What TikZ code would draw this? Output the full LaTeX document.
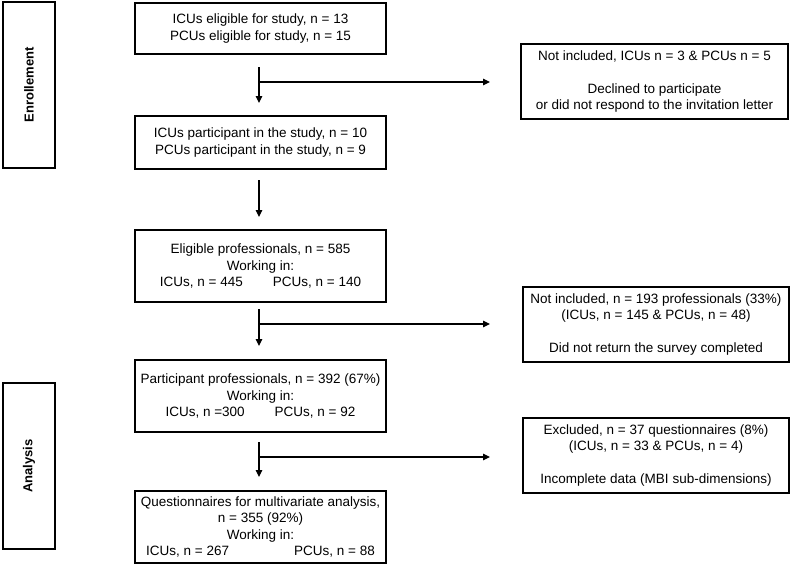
\documentclass[tikz,border=0pt]{standalone}
\usepackage{fontspec}
\setmainfont{Liberation Sans}
\usetikzlibrary{arrows.meta}
\begin{document}
\begin{tikzpicture}[x=1pt,y=-1pt,
  box/.style={draw=black,line width=1.1pt,align=center,inner sep=0pt,font=\fontsize{13.5}{16.2}\selectfont},
  side/.style={draw=black,line width=1.1pt,minimum width=52pt,minimum height=166pt,inner sep=0pt},
  sidelabel/.style={rotate=90,font=\fontsize{13}{15}\selectfont\bfseries},
  flow/.style={line width=1.1pt,-{Triangle[length=7pt,width=6.5pt]}}]
\useasboundingbox (0,0) rectangle (792,565);
% side boxes
\node[side] (enr) at (29,85) {};
\node[sidelabel] (enrl) at (enr.center) {Enrollement};
\node[side] (ana) at (29,466) {};
\node[sidelabel] (anal) at (ana.center) {Analysis};
% main boxes
\node[box,minimum width=251pt,minimum height=51pt] (b1) at (260.5,28.5)
  {ICUs eligible for study, n = 13\\PCUs eligible for study, n = 15};
\node[box,minimum width=251pt,minimum height=53pt] (b2) at (260.5,142.5)
  {ICUs participant in the study, n = 10\\PCUs participant in the study, n = 9};
\node[box,minimum width=251pt,minimum height=72pt] (b3) at (260.5,266)
  {Eligible professionals, n = 585\\Working in:\\ICUs, n = 445\hspace{30pt}PCUs, n = 140};
\node[box,minimum width=251pt,minimum height=72pt] (b4) at (260.5,396)
  {Participant professionals, n = 392 (67\%)\\Working in:\\ICUs, n =300\hspace{30pt}PCUs, n = 92};
\node[box,minimum width=251pt,minimum height=72pt] (b5) at (260.5,527)
  {Questionnaires for multivariate analysis,\\n = 355 (92\%)\\Working in:\\ICUs, n = 267\hspace{65pt}PCUs, n = 88};
% right boxes
\node[box,minimum width=267pt,minimum height=75pt] (r1) at (654.5,81.5)
  {Not included, ICUs n = 3 \& PCUs n = 5\\[16.2pt]Declined to participate\\or did not respond to the invitation letter};
\node[box,minimum width=266pt,minimum height=75pt] (r2) at (656,324.5)
  {Not included, n = 193 professionals (33\%)\\(ICUs, n = 145 \& PCUs, n = 48)\\[16.2pt]Did not return the survey completed};
\node[box,minimum width=266pt,minimum height=75pt] (r3) at (656,455.5)
  {Excluded, n = 37 questionnaires (8\%)\\(ICUs, n = 33 \& PCUs, n = 4)\\[16.2pt]Incomplete data (MBI sub-dimensions)};
% arrow coordinates
\coordinate (a1s) at (259,67);  \coordinate (a1e) at (259,103);
\coordinate (a2s) at (259,180); \coordinate (a2e) at (259,217);
\coordinate (a3s) at (259,309); \coordinate (a3e) at (259,346);
\coordinate (a4s) at (259,442); \coordinate (a4e) at (259,477);
\coordinate (h1s) at (259,82);  \coordinate (h1e) at (490,82);
\coordinate (h3s) at (259,324); \coordinate (h3e) at (490,324);
\coordinate (h4s) at (259,457); \coordinate (h4e) at (490,457);
\draw[flow] (a1s) -- (a1e);
\draw[flow] (a2s) -- (a2e);
\draw[flow] (a3s) -- (a3e);
\draw[flow] (a4s) -- (a4e);
\draw[flow] (h1s) -- (h1e);
\draw[flow] (h3s) -- (h3e);
\draw[flow] (h4s) -- (h4e);
\end{tikzpicture}
\end{document}
